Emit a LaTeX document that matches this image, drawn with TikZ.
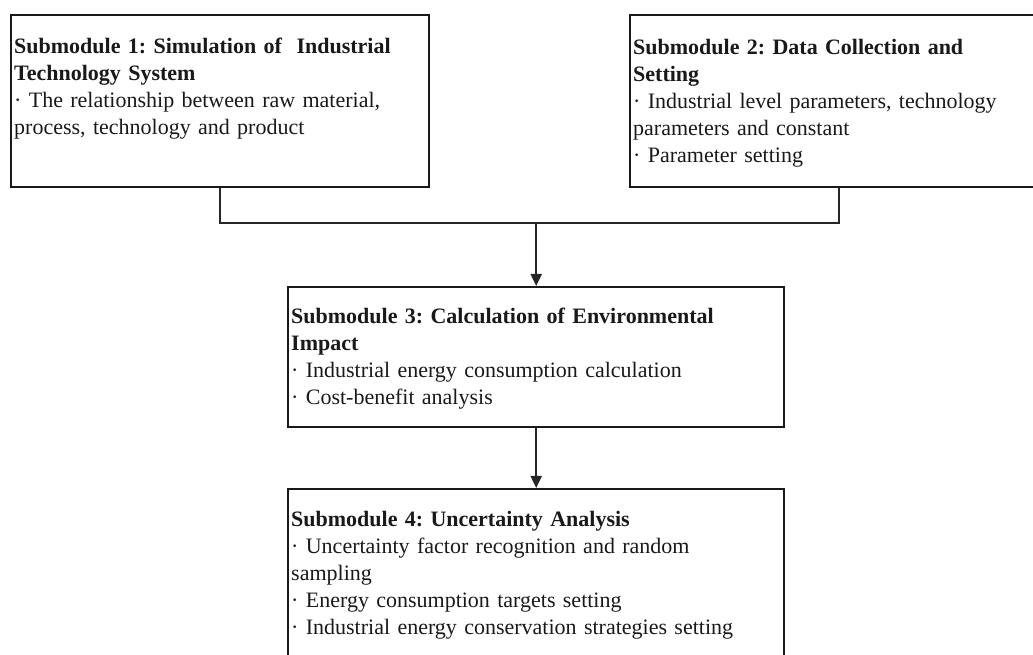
\documentclass[tikz,border=0pt]{standalone}
\usepackage{fontspec}
\setmainfont{Liberation Serif}
\usetikzlibrary{arrows.meta}
\frenchspacing

\begin{document}
\begin{tikzpicture}[x=1pt,y=1pt,>={Triangle[length=12pt,width=11pt]},line width=2pt,
    module node/.style={draw=black!85,line width=2.4pt,anchor=north west,align=left,inner xsep=3pt,inner ysep=0pt,font=\fontsize{22}{27}\selectfont,color=black!90}]
                \clip (0,0) rectangle (1033,655);
                \node[module node,text width=412pt,text height=38pt,text depth=134pt] (s1) at (10,641)
                    {\textbf{Submodule 1: Simulation of\ \ Industrial}\\\textbf{Technology System}\\· The relationship between raw material,\\process, technology and product};
                \node[module node,text width=412pt,text height=39pt,text depth=133pt] (s2) at (629,641)
                    {\textbf{Submodule 2: Data Collection and}\\\textbf{Setting}\\· Industrial level parameters, technology\\parameters and constant\\· Parameter setting};
                \node[module node,text width=490pt,text height=36pt,text depth=104pt] (s3) at (287,369)
                    {\textbf{Submodule 3: Calculation of Environmental}\\\textbf{Impact}\\· Industrial energy consumption calculation\\· Cost-benefit analysis};
                \node[module node,text width=490pt,text height=37pt,text depth=160pt] (s4) at (287,167)
                    {\textbf{Submodule 4: Uncertainty Analysis}\\· Uncertainty factor recognition and random\\sampling\\· Energy consumption targets setting\\· Industrial energy conservation strategies setting};

                \coordinate (join) at (s3.north |- 0,432);
                \path[draw=black!85]
                    (s1.south) |- (join) -| (s2.south)
                ;
                \path[every edge/.style={draw=black!85,->}]
                    (join) edge (s3.north)
                    (s3.south) edge (s4.north)
                ;
            \end{tikzpicture}
\end{document}
